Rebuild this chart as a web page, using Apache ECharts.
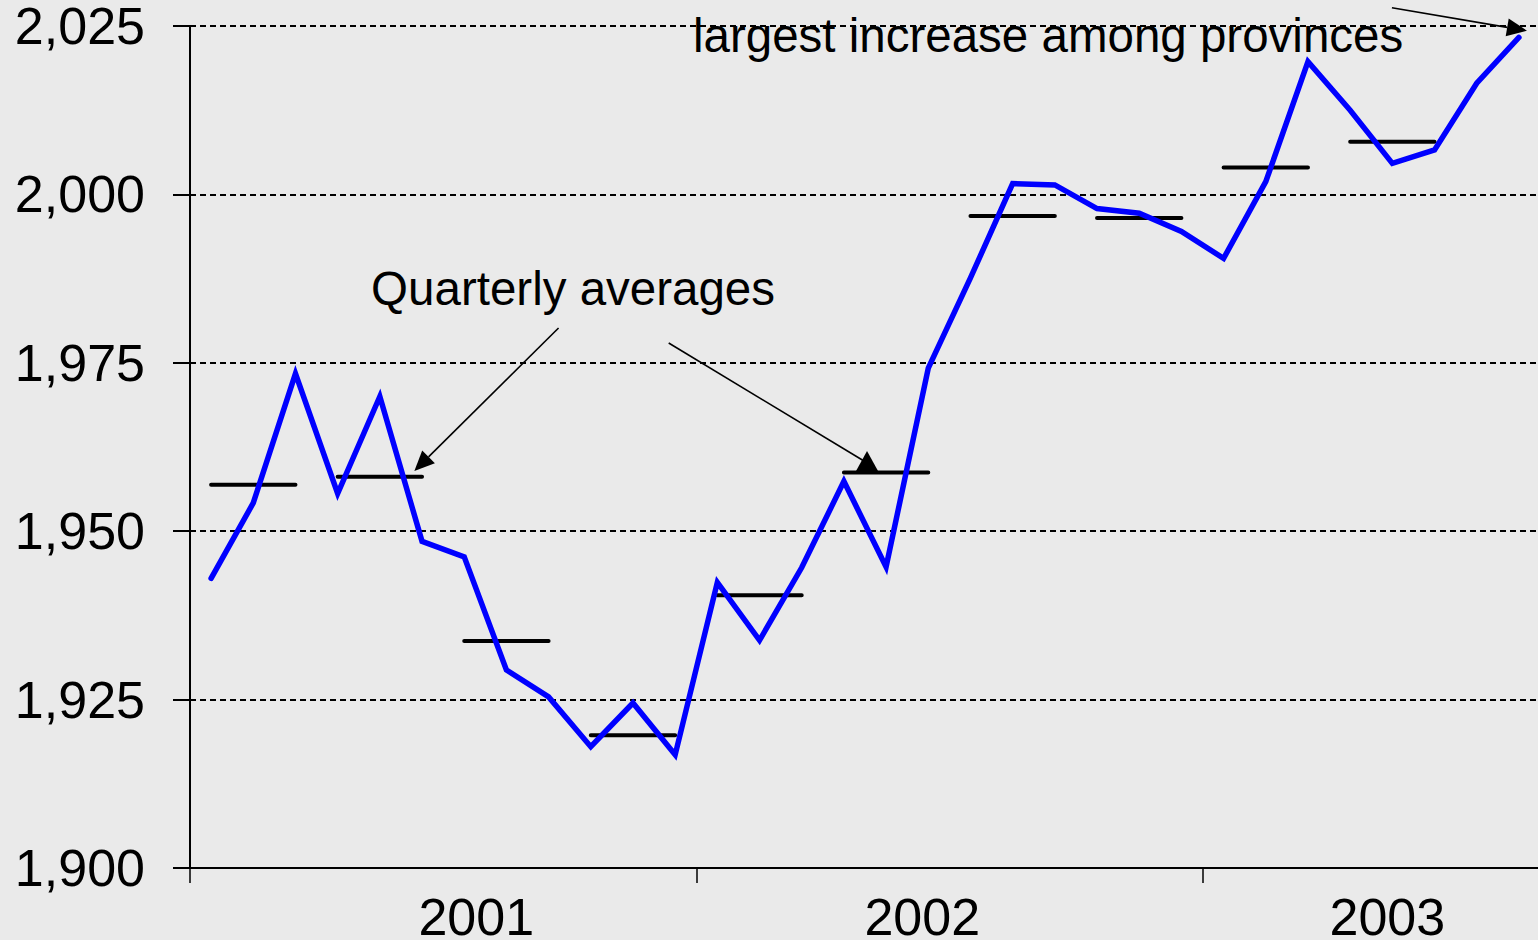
<!DOCTYPE html>
<html>
<head>
<meta charset="utf-8">
<script src="https://cdn.jsdelivr.net/npm/echarts@6/dist/echarts.min.js"></script>
<style>
html,body{margin:0;padding:0;background:#eaeaea;overflow:hidden}
#chart{width:1538px;height:940px}
</style>
</head>
<body>
<div id="chart"></div>
<script>
// ---- data ----
const months = [
  'Jan 2001','Feb 2001','Mar 2001','Apr 2001','May 2001','Jun 2001',
  'Jul 2001','Aug 2001','Sep 2001','Oct 2001','Nov 2001','Dec 2001',
  'Jan 2002','Feb 2002','Mar 2002','Apr 2002','May 2002','Jun 2002',
  'Jul 2002','Aug 2002','Sep 2002','Oct 2002','Nov 2002','Dec 2002',
  'Jan 2003','Feb 2003','Mar 2003','Apr 2003','May 2003','Jun 2003',
  'Jul 2003','Aug 2003'
];
const employment = [
  1943.0, 1954.2, 1973.4, 1955.6, 1970.0, 1948.5,
  1946.2, 1929.4, 1925.4, 1918.0, 1924.5, 1916.8,
  1942.4, 1933.8, 1944.6, 1957.4, 1944.7, 1974.2,
  1987.6, 2001.6, 2001.4, 1997.9, 1997.2, 1994.5,
  1990.5, 2001.9, 2019.7, 2012.5, 2004.6, 2006.6,
  2016.5, 2023.3
];
const quarters = ['2001 Q1','2001 Q2','2001 Q3','2001 Q4','2002 Q1','2002 Q2','2002 Q3','2002 Q4','2003 Q1','2003 Q2'];
const quarterlyAverages = [1956.9, 1958.1, 1933.7, 1919.7, 1940.5, 1958.7, 1996.8, 1996.5, 2004.0, 2007.8];
const yearLabels = ['2001','2002','2003'];
const yTickValues = [1900, 1925, 1950, 1975, 2000, 2025];
const annotationTexts = ['Quarterly averages', 'largest increase among provinces'];

// ---- chart ----
const FONT = "'Liberation Sans', Arial, Helvetica, sans-serif";
const chart = echarts.init(document.getElementById('chart'), null, {renderer: 'svg'});

const labelIndex = {6: yearLabels[0], 17: yearLabels[1], 28: yearLabels[2]};

const quarterSeries = quarters.map((q, qi) => ({
  name: q,
  type: 'line',
  xAxisIndex: 0,
  yAxisIndex: 0,
  data: months.map((m, i) => (Math.floor(i / 3) === qi ? quarterlyAverages[qi] : null)),
  symbol: 'none',
  silent: true,
  connectNulls: false,
  z: 2,
  lineStyle: {color: '#000000', width: 4, cap: 'round'},
  animation: false
}));

chart.setOption({
  backgroundColor: '#eaeaea',
  animation: false,
  grid: {left: 190, right: -2, top: 26, bottom: 72, containLabel: false, outerBoundsMode: 'none'},
  xAxis: [
    {
      type: 'category',
      data: months,
      boundaryGap: true,
      axisLine: {show: true, onZero: false, lineStyle: {color: '#000', width: 2}},
      axisTick: {
        show: true,
        interval: (i) => i % 12 === 0,
        alignWithLabel: false,
        length: 15,
        lineStyle: {color: '#000', width: 1.5}
      },
      axisLabel: {
        show: true,
        interval: (i) => labelIndex[i] !== undefined,
        formatter: (v, i) => {
          const y = labelIndex[i] || v.slice(-4);
          return '{y' + y + '|' + y + '}';
        },
        margin: 29,
        color: '#000',
        fontSize: 52,
        lineHeight: 40,
        fontFamily: FONT,
        rich: {
          y2001: {fontSize: 52, lineHeight: 40, fontFamily: FONT, color: '#000', padding: [0, 0, 0, 24]},
          y2002: {fontSize: 52, lineHeight: 40, fontFamily: FONT, color: '#000', padding: [0, 12, 0, 0]},
          y2003: {fontSize: 52, lineHeight: 40, fontFamily: FONT, color: '#000', padding: [0, 10, 0, 0]}
        }
      },
      splitLine: {show: false}
    },
    {
      type: 'value',
      min: -0.5,
      max: 31.5,
      show: false,
      gridIndex: 0,
      axisLine: {onZero: false}
    }
  ],
  yAxis: {
    type: 'value',
    min: yTickValues[0],
    max: yTickValues[yTickValues.length - 1],
    interval: yTickValues[1] - yTickValues[0],
    axisLine: {show: true, onZero: false, lineStyle: {color: '#000', width: 2}},
    axisTick: {show: true, length: 17, lineStyle: {color: '#000', width: 2}},
    axisLabel: {
      formatter: (v) => v.toLocaleString('en-US'),
      fontSize: 52,
      lineHeight: 40,
      fontFamily: FONT,
      color: '#000',
      margin: 45
    },
    splitLine: {show: true, lineStyle: {color: '#000', width: 2, type: [6, 4]}}
  },
  series: [
    {
      name: 'Employment',
      type: 'line',
      data: employment,
      symbol: 'none',
      silent: true,
      z: 3,
      lineStyle: {color: '#0000ff', width: 5.5, cap: 'round', join: 'miter'}
    }
  ].concat(quarterSeries)
});

// ---- annotations anchored in data space ----
function px(x, y) {
  return chart.convertToPixel({xAxisIndex: 1, yAxisIndex: 0}, [x, y]);
}
function arrow(from, tip, opts) {
  const a = px(from[0], from[1]);
  const t = px(tip[0], tip[1]);
  const L = opts.len, W = opts.half;
  let dx, dy;
  if (opts.up) { dx = 0; dy = -1; }
  else {
    dx = t[0] - a[0]; dy = t[1] - a[1];
    const n = Math.hypot(dx, dy); dx /= n; dy /= n;
  }
  const bx = t[0] - L * dx, by = t[1] - L * dy;
  const nx = -dy, ny = dx;
  const lineEnd = opts.up ? px(opts.lineEnd[0], opts.lineEnd[1]) : [bx, by];
  return [
    {type: 'line', silent: true, z: 10,
     shape: {x1: a[0], y1: a[1], x2: lineEnd[0], y2: lineEnd[1]},
     style: {stroke: '#000', lineWidth: 1.6}},
    {type: 'polygon', silent: true, z: 10,
     shape: {points: [[t[0], t[1]], [bx + W * nx, by + W * ny], [bx - W * nx, by - W * ny]]},
     style: {fill: '#000', stroke: null}}
  ];
}
function label(text, at) {
  const p = px(at[0], at[1]);
  return {type: 'text', silent: true, z: 10, x: p[0], y: p[1],
    style: {text: text, fontSize: 47.5, fontFamily: FONT, fill: '#000',
      align: 'center', verticalAlign: 'middle', textAlign: 'center', textVerticalAlign: 'middle'}};
}

const elements = [].concat(
  [label(annotationTexts[0], [8.58, 1986.0])],
  [label(annotationTexts[1], [19.84, 2023.6])],
  arrow([8.236, 1980.17], [4.818, 1958.94], {len: 20, half: 9}),
  arrow([10.847, 1977.94], [15.548, 1961.9], {len: 20, half: 11, up: true, lineEnd: [15.476, 1960.42]}),
  arrow([27.99, 2027.7], [31.19, 2024.3], {len: 20, half: 9})
);
chart.setOption({graphic: {elements: elements}});
</script>
</body>
</html>
